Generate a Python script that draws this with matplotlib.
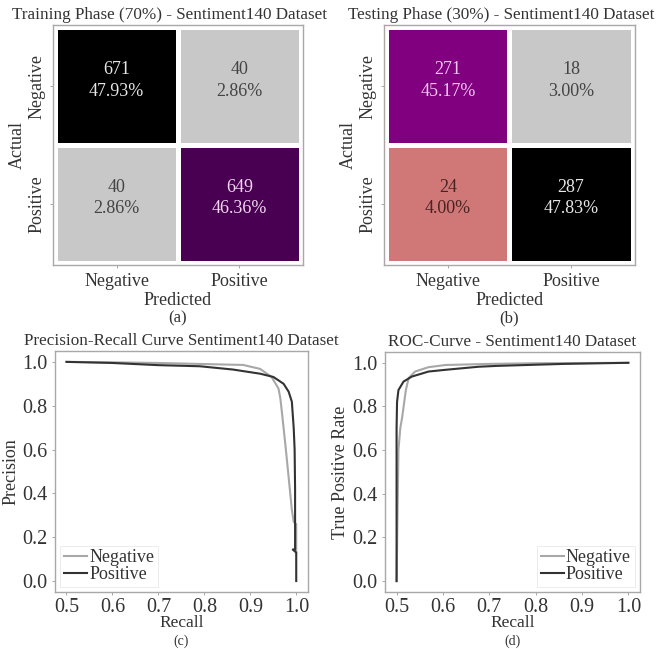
"""Confusion matrices plus PR / ROC curves for the Sentiment140 model."""

import matplotlib

matplotlib.use("Agg")

import matplotlib.pyplot as plt
import numpy as np

plt.rcParams["font.family"] = ["Liberation Serif", "DejaVu Serif"]
plt.rcParams["text.color"] = "#333333"
plt.rcParams["axes.labelcolor"] = "#333333"
plt.rcParams["xtick.color"] = "#999999"
plt.rcParams["ytick.color"] = "#999999"
plt.rcParams["xtick.labelcolor"] = "#333333"
plt.rcParams["ytick.labelcolor"] = "#333333"

# --- data -------------------------------------------------------------
class_names = ["Negative", "Positive"]

train_counts = np.array([[671, 40], [40, 649]])
train_pct = np.array([[47.93, 2.86], [2.86, 46.36]])

test_counts = np.array([[271, 18], [24, 287]])
test_pct = np.array([[45.17, 3.00], [4.00, 47.83]])

pr_neg_recall = [0.50, 0.60, 0.70, 0.80, 0.884, 0.921, 0.946, 0.961, 0.965,
                 0.969, 0.976, 0.983, 0.990, 0.994, 0.9995, 0.9995]
pr_neg_precision = [1.00, 0.998, 0.995, 0.990, 0.986, 0.968, 0.931, 0.878, 0.833,
                    0.758, 0.620, 0.473, 0.324, 0.270, 0.260, 0.130]

pr_pos_recall = [0.50, 0.60, 0.70, 0.79, 0.862, 0.921, 0.950, 0.972, 0.983,
                 0.990, 0.994, 0.996, 0.997, 0.997, 0.992, 0.9995, 0.9995]
pr_pos_precision = [1.00, 0.995, 0.985, 0.980, 0.965, 0.946, 0.931, 0.900, 0.864,
                    0.818, 0.698, 0.600, 0.420, 0.144, 0.144, 0.130, 0.0]

roc_neg_x = [0.50, 0.502, 0.504, 0.508, 0.512, 0.520, 0.526, 0.540, 0.569,
             0.606, 0.70, 0.80, 1.00]
roc_neg_y = [0.00, 0.30, 0.60, 0.70, 0.75, 0.875, 0.93, 0.96, 0.98,
             0.99, 0.995, 0.998, 1.00]

roc_pos_x = [0.50, 0.50, 0.501, 0.504, 0.515, 0.533, 0.569, 0.606, 0.677,
             0.718, 0.861, 1.00]
roc_pos_y = [0.00, 0.70, 0.82, 0.875, 0.914, 0.937, 0.960, 0.968, 0.982,
             0.986, 0.995, 1.00]

# --- styling ----------------------------------------------------------
GRAY_CELL = "#c8c8c8"
train_cell_colors = [["#000000", GRAY_CELL], [GRAY_CELL, "#4a0052"]]
test_cell_colors = [["#800080", GRAY_CELL], ["#d07878", "#000000"]]
train_text_colors = [["#e6e6e6", "#444444"], ["#444444", "#f0d8f0"]]
test_text_colors = [["#f2c8f2", "#444444"], ["#4a2222", "#e6e6e6"]]

FRAME = "#a8a8a8"
NEG_COLOR = "#a8a8a8"
POS_COLOR = "#333333"


def style_frame(ax):
    for spine in ax.spines.values():
        spine.set_color(FRAME)
        spine.set_linewidth(1.0)


def draw_confusion(ax, counts, pct, cell_colors, text_colors, title, tag):
    rgb = np.array([[matplotlib.colors.to_rgb(c) for c in row] for row in cell_colors])
    ax.imshow(rgb, aspect="auto", extent=(-0.5, 1.5, 1.5, -0.5))
    # white gaps between the cells
    for pos in (-0.5, 0.5, 1.5):
        ax.axvline(pos, color="white", lw=3.6)
        ax.axhline(pos, color="white", lw=3.6)
    ax.set_xlim(-0.52, 1.52)
    ax.set_ylim(1.52, -0.52)
    for i in range(2):
        for j in range(2):
            ax.text(j, i - 0.05, f"{counts[i, j]}\n{pct[i, j]:.2f}%", ha="center",
                    va="center", fontsize=13, color=text_colors[i][j], linespacing=1.35)
    ax.set_xticks([0, 1])
    ax.set_xticklabels(class_names, fontsize=13)
    ax.set_yticks([0, 1])
    ax.set_yticklabels(class_names, fontsize=13, rotation=90, va="center")
    ax.tick_params(length=2.5, width=0.6, pad=3)
    ax.set_xlabel("Predicted", fontsize=13, labelpad=2)
    ax.set_ylabel("Actual", fontsize=13, labelpad=2)
    ax.set_title(title, fontsize=12.3, pad=4, x=0.468)
    ax.text(0.5, -0.19, tag, transform=ax.transAxes, ha="center", va="top", fontsize=12)
    style_frame(ax)


def draw_curve(ax, neg_x, neg_y, pos_x, pos_y, title, ylabel, tag, legend_loc):
    ax.plot(neg_x, neg_y, color=NEG_COLOR, lw=1.5, label="Negative")
    ax.plot(pos_x, pos_y, color=POS_COLOR, lw=1.5, label="Positive")
    ax.set_xlim(0.475, 1.025)
    ax.set_ylim(-0.05, 1.05)
    ax.set_xticks(np.arange(0.5, 1.01, 0.1))
    ax.set_yticks(np.arange(0.0, 1.01, 0.2))
    ax.xaxis.set_major_formatter(matplotlib.ticker.FormatStrFormatter("%.1f"))
    ax.yaxis.set_major_formatter(matplotlib.ticker.FormatStrFormatter("%.1f"))
    ax.tick_params(labelsize=14.5, length=2.5, width=0.6, pad=3)
    ax.tick_params(axis="x", pad=1.5)
    ax.set_xlabel("Recall", fontsize=12.5, labelpad=-1)
    ax.set_ylabel(ylabel, fontsize=13, labelpad=2)
    ax.set_title(title, fontsize=12.3, pad=4)
    ax.text(0.5, -0.178, tag, transform=ax.transAxes, ha="center", va="top", fontsize=10)
    leg = ax.legend(loc=legend_loc, fontsize=13, handlelength=1.3, handletextpad=0.1,
                    labelspacing=-0.02, borderpad=0.2, borderaxespad=0.3,
                    frameon=True, fancybox=False)
    leg.get_frame().set_edgecolor("#e4e4e4")
    leg.get_frame().set_linewidth(0.6)
    style_frame(ax)


fig = plt.figure(figsize=(6.64, 6.49), dpi=100)

ax_a = fig.add_axes([0.0798, 0.5917, 0.3765, 0.3698])
ax_b = fig.add_axes([0.5783, 0.5917, 0.3780, 0.3698])
ax_c = fig.add_axes([0.0828, 0.0878, 0.3810, 0.3715])
ax_d = fig.add_axes([0.5798, 0.0878, 0.3840, 0.3700])

draw_confusion(ax_a, train_counts, train_pct, train_cell_colors, train_text_colors,
               "Training Phase (70%) - Sentiment140 Dataset", "(a)")
draw_confusion(ax_b, test_counts, test_pct, test_cell_colors, test_text_colors,
               "Testing Phase (30%) - Sentiment140 Dataset", "(b)")
draw_curve(ax_c, pr_neg_recall, pr_neg_precision, pr_pos_recall, pr_pos_precision,
           "Precision-Recall Curve Sentiment140 Dataset", "Precision", "(c)", "lower left")
draw_curve(ax_d, roc_neg_x, roc_neg_y, roc_pos_x, roc_pos_y,
           "ROC-Curve - Sentiment140 Dataset", "True Positive Rate", "(d)", "lower right")

fig.savefig("out.png", dpi=100)
